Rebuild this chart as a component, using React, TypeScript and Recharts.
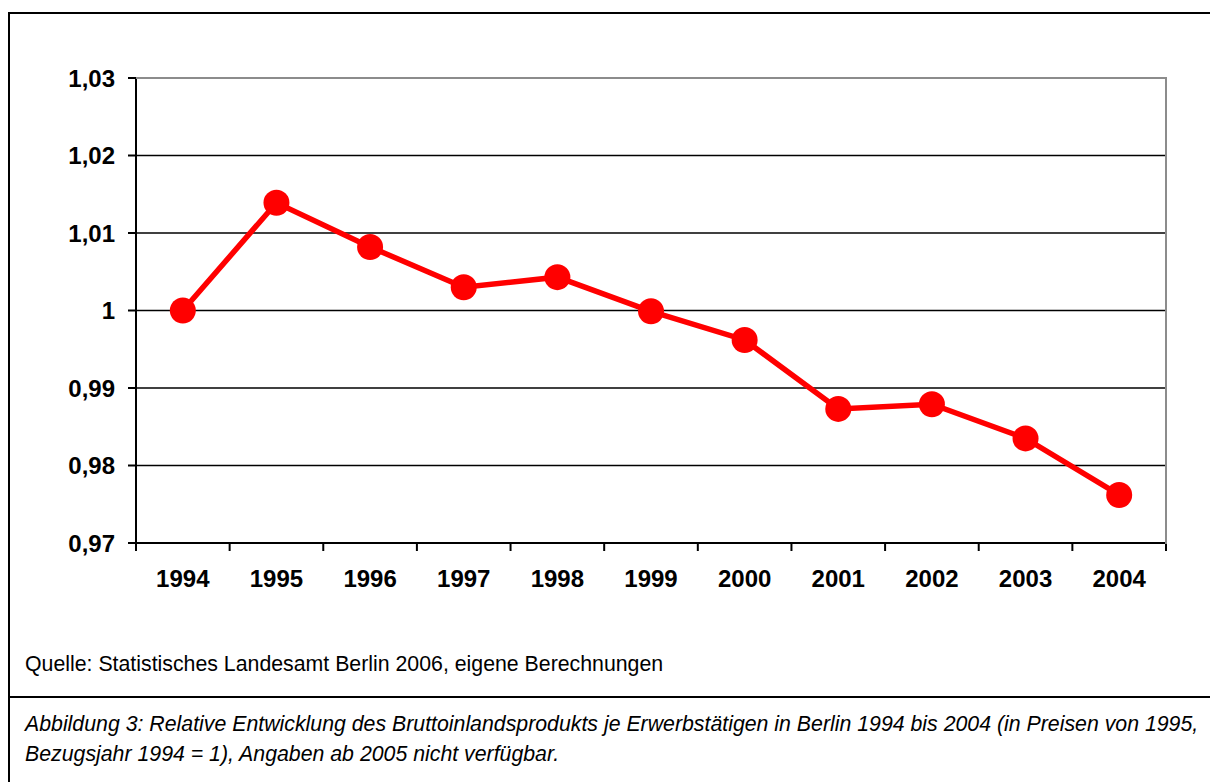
import React from "react"
import { LineChart, Line, XAxis, YAxis, CartesianGrid } from "recharts"

// Jahre und relative Werte (1994 = 1)
const years = ["1994", "1995", "1996", "1997", "1998", "1999", "2000", "2001", "2002", "2003", "2004"]
const values = [1.0, 1.0139, 1.0082, 1.003, 1.0043, 0.9999, 0.9962, 0.9873, 0.9879, 0.9835, 0.9762]
const yTicks = [0.97, 0.98, 0.99, 1, 1.01, 1.02, 1.03]

const source = "Quelle: Statistisches Landesamt Berlin 2006, eigene Berechnungen"
const caption1 =
  "Abbildung 3: Relative Entwicklung des Bruttoinlandsprodukts je Erwerbstätigen in Berlin 1994 bis 2004 (in Preisen von 1995,"
const caption2 = "Bezugsjahr 1994 = 1), Angaben ab 2005 nicht verfügbar."

const data = years.map((year, i) => ({ year, value: values[i] }))
// Grenzen zwischen den Kategorien, für die Teilstriche der x-Achse
const boundaries = Array.from({ length: years.length + 1 }, (_, i) => i)

const FONT = '"Liberation Sans", Arial, Helvetica, sans-serif'

function formatTick(v: number): string {
  return String(Number(v.toFixed(2))).replace(".", ",")
}

export default function App() {
  return (
    <div
      style={{
        position: "absolute",
        left: 0,
        top: 0,
        width: 1210,
        height: 782,
        overflow: "hidden",
        background: "#fff",
        fontFamily: FONT,
      }}
    >
      {/* Rahmen */}
      <div
        style={{
          position: "absolute",
          left: 8,
          top: 12,
          width: 1240,
          height: 820,
          border: "2px solid #000",
        }}
      />
      <div
        style={{
          position: "absolute",
          left: 8,
          top: 696,
          width: 1240,
          borderTop: "2px solid #000",
        }}
      />

      <div style={{ position: "absolute", left: 0, top: 0 }}>
        <LineChart
          width={1210}
          height={782}
          data={data}
          margin={{ top: 78, right: 44, left: 76, bottom: 178 }}
        >
          <CartesianGrid
            xAxisId="b_cat"
            vertical={false}
            stroke="#000"
            strokeWidth={1.5}
          />
          <XAxis
            xAxisId="b_cat"
            dataKey="year"
            scale="band"
            tickLine={false}
            axisLine={false}
            tickSize={0}
            tickMargin={26}
            height={60}
            interval={0}
            tick={{ fontSize: 24, fontWeight: "bold", fill: "#000", fontFamily: FONT }}
          />
          <XAxis
            xAxisId="a_marks"
            type="number"
            scale="linear"
            dataKey={(d: { year: string }) => years.indexOf(d.year) + 0.5}
            domain={[0, years.length]}
            allowDataOverflow
            ticks={boundaries}
            interval={0}
            tickFormatter={() => ""}
            tickSize={8}
            tickLine={{ stroke: "#000", strokeWidth: 2 }}
            axisLine={{ stroke: "#000", strokeWidth: 2 }}
            height={1}
          />
          <YAxis
            type="number"
            domain={[0.97, 1.03]}
            ticks={yTicks}
            width={60}
            tickSize={8}
            tickMargin={13}
            tickFormatter={formatTick}
            tickLine={{ stroke: "#000", strokeWidth: 2 }}
            axisLine={{ stroke: "#000", strokeWidth: 2 }}
            tick={{ fontSize: 24, fontWeight: "bold", fill: "#000", fontFamily: FONT }}
          />
          <Line
            xAxisId="b_cat"
            dataKey="value"
            stroke="#ff0000"
            strokeWidth={5.5}
            dot={{ r: 13, fill: "#ff0000", stroke: "none" }}
            activeDot={false}
            isAnimationActive={false}
          />
        </LineChart>
      </div>

      {/* graue Begrenzung oben und rechts */}
      <div
        style={{
          position: "absolute",
          left: 136,
          top: 77,
          width: 1031,
          height: 467,
          boxSizing: "border-box",
          borderTop: "2px solid #8c8c8c",
          borderRight: "2px solid #8c8c8c",
          pointerEvents: "none",
        }}
      />

      <div
        style={{
          position: "absolute",
          left: 25,
          top: 654,
          fontSize: 21.3,
          lineHeight: "21px",
          color: "#000",
          whiteSpace: "nowrap",
        }}
      >
        {source}
      </div>
      <div
        style={{
          position: "absolute",
          left: 25,
          top: 709,
          fontSize: 21.3,
          lineHeight: "30px",
          fontStyle: "italic",
          color: "#000",
          whiteSpace: "nowrap",
        }}
      >
        <div>{caption1}</div>
        <div>{caption2}</div>
      </div>
    </div>
  )
}
